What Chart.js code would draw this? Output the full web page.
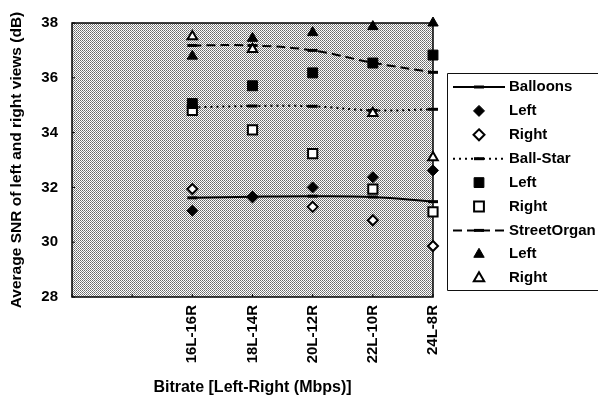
<!DOCTYPE html>
<html>
<head>
<meta charset="utf-8">
<script src="https://cdn.jsdelivr.net/npm/chart.js@4"></script>
<style>
html,body{margin:0;padding:0;background:#fff;overflow:hidden;}
#wrap{width:598px;height:399px;position:relative;}
</style>
</head>
<body>
<div id="wrap"><canvas id="c" width="598" height="399"></canvas></div>
<script>
// ---- data ----
const categories = ['', '', '16L-16R', '18L-14R', '20L-12R', '22L-10R', '24L-8R'];
const yTicks = [28, 30, 32, 34, 36, 38];
const balloonsAvg = [31.62, 31.66, 31.68, 31.65, 31.48];
const balloonsLeft = [31.15, 31.65, 32.0, 32.37, 32.62];
const balloonsRight = [31.94, 31.65, 31.29, 30.8, 29.86];
const ballStarAvg = [34.92, 34.97, 34.96, 34.81, 34.85];
const ballStarLeft = [35.06, 35.71, 36.18, 36.54, 36.83];
const ballStarRight = [34.81, 34.1, 33.23, 31.94, 31.11];
const streetOrganAvg = [37.18, 37.18, 37.0, 36.55, 36.2];
const streetOrganLeft = [36.79, 37.44, 37.65, 37.87, 38.0];
const streetOrganRight = [37.51, 37.04, null, 34.71, 33.09];
const legendLabels = ['Balloons', 'Left', 'Right', 'Ball-Star', 'Left', 'Right', 'StreetOrgan', 'Left', 'Right'];

const pad = arr => [null, null].concat(arr);
const FONT = '"Liberation Sans", Arial, sans-serif';

function lineDs(label, data, dash) {
  return {label, data: pad(data), borderColor: '#000', borderWidth: 2, borderDash: dash,
    tension: 0.4, pointStyle: 'line', pointRadius: 5, pointBorderWidth: 3,
    pointBorderColor: '#000', backgroundColor: '#000', fill: false, clip: false, order: 5};
}
function markDs(label, data, style, filled, r) {
  return {label, data: pad(data), showLine: false, pointStyle: style, pointRadius: r,
    pointBackgroundColor: filled ? '#000' : '#fff', pointBorderColor: '#000',
    pointBorderWidth: filled ? 1 : 2, clip: false, order: 1};
}

// stipple pattern
const pc = document.createElement('canvas'); pc.width = 2; pc.height = 2;
const pctx = pc.getContext('2d');
pctx.fillStyle = '#fff'; pctx.fillRect(0, 0, 2, 2);
pctx.fillStyle = '#686868'; pctx.fillRect(0, 0, 1, 1);
pctx.fillStyle = '#888888'; pctx.fillRect(1, 1, 1, 1);

function drawMarker(ctx, style, filled, x, y) {
  ctx.save();
  ctx.fillStyle = filled ? '#000' : '#fff';
  ctx.strokeStyle = '#000';
  ctx.lineWidth = filled ? 1 : 2;
  ctx.beginPath();
  if (style === 'rectRot') {
    const r = 5.5;
    ctx.moveTo(x, y - r); ctx.lineTo(x + r, y); ctx.lineTo(x, y + r); ctx.lineTo(x - r, y);
  } else if (style === 'rect') {
    const s = 4.9;
    ctx.rect(x - s, y - s, 2 * s, 2 * s);
  } else {
    const r = 6;
    ctx.moveTo(x, y - r);
    ctx.lineTo(x + r * Math.sin(2 * Math.PI / 3), y - r * Math.cos(2 * Math.PI / 3));
    ctx.lineTo(x + r * Math.sin(4 * Math.PI / 3), y - r * Math.cos(4 * Math.PI / 3));
  }
  ctx.closePath(); ctx.fill(); ctx.stroke();
  ctx.restore();
}

const decor = {
  id: 'decor',
  beforeDatasetsDraw(chart) {
    const {ctx, chartArea: a, scales} = chart;
    ctx.save();
    ctx.fillStyle = ctx.createPattern(pc, 'repeat');
    ctx.fillRect(a.left, a.top, a.right - a.left, a.bottom - a.top);
    ctx.strokeStyle = '#000'; ctx.lineWidth = 1.5;
    ctx.strokeRect(a.left, a.top, a.right - a.left, a.bottom - a.top);
    ctx.lineWidth = 1;
    yTicks.forEach(v => {
      const y = scales.y.getPixelForValue(v);
      ctx.beginPath(); ctx.moveTo(a.left, y); ctx.lineTo(a.left + 3, y); ctx.stroke();
    });
    categories.forEach((c, i) => {
      const x = scales.x.getPixelForValue(i);
      ctx.beginPath(); ctx.moveTo(x, a.bottom); ctx.lineTo(x, a.bottom - 3); ctx.stroke();
    });
    ctx.restore();
  },
  afterDraw(chart) {
    const ctx = chart.ctx;
    ctx.save();
    // legend box (right side runs past the canvas edge)
    ctx.strokeStyle = '#111'; ctx.lineWidth = 1;
    ctx.beginPath();
    ctx.moveTo(700, 73.5); ctx.lineTo(447.5, 73.5); ctx.lineTo(447.5, 290.5); ctx.lineTo(700, 290.5);
    ctx.stroke();
    const y0 = 87, dy = 23.9;
    const lineKinds = [[], [2, 4], [9, 5]];
    const markStyles = ['rectRot', 'rect', 'triangle'];
    ctx.font = 'bold 15px ' + FONT;
    ctx.fillStyle = '#000';
    ctx.textBaseline = 'middle';
    ctx.textAlign = 'left';
    for (let g = 0; g < 3; g++) {
      const yl = y0 + dy * (g * 3);
      ctx.save();
      ctx.strokeStyle = '#000'; ctx.lineWidth = 2;
      ctx.setLineDash(lineKinds[g]);
      ctx.beginPath(); ctx.moveTo(453, yl); ctx.lineTo(505, yl); ctx.stroke();
      ctx.setLineDash([]); ctx.lineWidth = 3;
      ctx.beginPath(); ctx.moveTo(474, yl); ctx.lineTo(484, yl); ctx.stroke();
      ctx.restore();
      ctx.fillText(legendLabels[g * 3], 509, yl);
      for (let k = 1; k <= 2; k++) {
        const ym = y0 + dy * (g * 3 + k);
        drawMarker(ctx, markStyles[g], k === 1, 479, ym);
        ctx.fillStyle = '#000';
        ctx.fillText(legendLabels[g * 3 + k], 509, ym);
      }
    }
    ctx.restore();
  }
};

new Chart(document.getElementById('c'), {
  type: 'line',
  data: {
    labels: categories,
    datasets: [
      lineDs('Balloons', balloonsAvg, []),
      markDs('Left', balloonsLeft, 'rectRot', true, 5.5),
      markDs('Right', balloonsRight, 'rectRot', false, 5),
      lineDs('Ball-Star', ballStarAvg, [2, 4]),
      markDs('Left', ballStarLeft, 'rect', true, 7),
      markDs('Right', ballStarRight, 'rect', false, 6.5),
      lineDs('StreetOrgan', streetOrganAvg, [9, 5]),
      markDs('Left', streetOrganLeft, 'triangle', true, 6),
      markDs('Right', streetOrganRight, 'triangle', false, 5.5)
    ]
  },
  options: {
    responsive: false,
    animation: false,
    events: [],
    layout: {padding: {left: 0, top: 18, right: 165, bottom: 0}},
    plugins: {legend: {display: false}, tooltip: {enabled: false}},
    scales: {
      x: {
        type: 'category',
        offset: false,
        grid: {display: false, drawTicks: false},
        border: {display: false},
        ticks: {autoSkip: false, minRotation: 90, maxRotation: 90, padding: 8,
          color: '#000', font: {family: FONT, size: 15, weight: 'bold'}},
        title: {display: true, text: 'Bitrate [Left-Right (Mbps)]', color: '#000',
          font: {family: FONT, size: 16, weight: 'bold'}, padding: {top: 0, bottom: 1.5}},
        afterFit(s) { s.height = 102; }
      },
      y: {
        min: 28, max: 38,
        grid: {display: false, drawTicks: false},
        border: {display: false},
        ticks: {stepSize: 2, padding: 14, color: '#000',
          font: {family: FONT, size: 15, weight: 'bold'}},
        title: {display: true, text: 'Average SNR of left and right views (dB)', color: '#000',
          font: {family: FONT, size: 15.5, weight: 'bold'}, padding: {top: 7, bottom: 0}},
        afterFit(s) { s.width = 72; }
      }
    }
  },
  plugins: [decor]
});
</script>
</body>
</html>
